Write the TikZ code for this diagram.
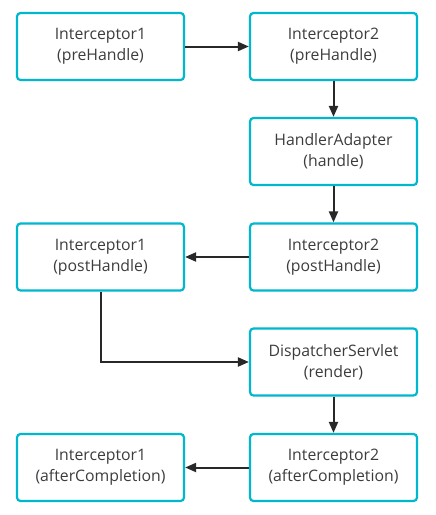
\documentclass[tikz,border=0pt]{standalone}
\usepackage{fontspec}
\setmainfont{Open Sans}
\usetikzlibrary{arrows.meta}
\definecolor{boxc}{RGB}{0,183,206}
\definecolor{txtc}{RGB}{60,60,60}
\definecolor{linec}{RGB}{40,40,40}
\begin{document}
\begin{tikzpicture}[x=1pt,y=-1pt,
  stepbox/.style={draw=boxc,line width=2.2pt,rounded corners=3.5pt,minimum width=167pt,minimum height=67pt,inner sep=0pt,align=center,text=txtc,font=\fontsize{15.8}{21}\selectfont},
  conn/.style={draw=linec,line width=2pt,-{Triangle[length=11pt,width=9pt]}}]
\useasboundingbox (0,0) rectangle (436,515);
\node[stepbox] (a) at (100.5,46.5) {Interceptor1\\(preHandle)};
\node[stepbox] (b) at (333.5,46.5) {Interceptor2\\(preHandle)};
\node[stepbox] (c) at (333.5,151.5) {HandlerAdapter\\(handle)};
\node[stepbox] (d) at (333.5,257) {Interceptor2\\(postHandle)};
\node[stepbox] (e) at (100.5,257) {Interceptor1\\(postHandle)};
\node[stepbox] (f) at (333.5,362) {DispatcherServlet\\(render)};
\node[stepbox] (g) at (333.5,467.5) {Interceptor2\\(afterCompletion)};
\node[stepbox] (h) at (100.5,467.5) {Interceptor1\\(afterCompletion)};
\draw[conn] (a) -- (b);
\draw[conn] (b) -- (c);
\draw[conn] (c) -- (d);
\draw[conn] (d) -- (e);
\draw[conn] (e.south) |- (f.west);
\draw[conn] (f) -- (g);
\draw[conn] (g) -- (h);
\end{tikzpicture}
\end{document}
